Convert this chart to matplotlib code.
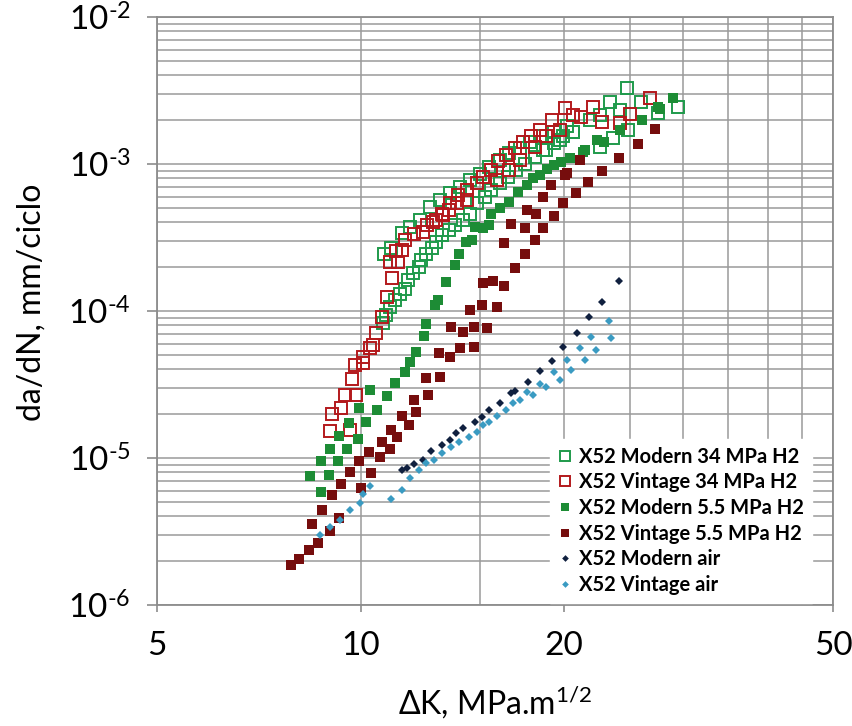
import math
import matplotlib
matplotlib.use("Agg")
import matplotlib.pyplot as plt
from matplotlib.ticker import FixedLocator, LogLocator, NullFormatter, FuncFormatter

plt.rcParams['font.family'] = ['Lato', 'DejaVu Sans']
plt.rcParams['mathtext.fontset'] = 'custom'
plt.rcParams['mathtext.rm'] = 'Lato'
plt.rcParams['mathtext.default'] = 'regular'

# ---------------- data ----------------
labels = ["X52 Modern 34 MPa H2", "X52 Vintage 34 MPa H2", "X52 Modern 5.5 MPa H2",
          "X52 Vintage 5.5 MPa H2", "X52 Modern air", "X52 Vintage air"]

mod34_x = [10.8, 10.9, 11.05, 11.25, 11.44, 11.64, 11.77, 11.97, 12.2, 12.3, 12.5, 12.75, 12.95, 13.2,
           13.5, 13.8, 14.2, 14.5, 14.85, 15.3, 15.6, 16.1, 16.5, 17.0, 17.5, 18.1, 18.6, 19.3, 19.9,
           20.6, 22.6, 23.6, 24.9, 27.5, 29.5,
           10.85, 11.1, 11.5, 11.84, 12.25, 12.65, 13.1, 13.56, 14.03, 14.5, 15.0, 15.5, 16.1, 16.6,
           17.2, 17.8, 18.4, 18.8, 19.3, 19.7, 20.2, 20.6, 21.85, 22.6, 23.4, 24.2, 24.8, 26.0]
mod34_y = [8.3e-5, 9.4e-5, 1.07e-4, 1.19e-4, 1.31e-4, 1.42e-4, 1.63e-4, 1.81e-4, 2.0e-4, 2.22e-4,
           2.46e-4, 2.67e-4, 2.96e-4, 3.3e-4, 3.56e-4, 3.85e-4, 4.16e-4, 4.6e-4, 5.4e-4, 6.0e-4,
           6.65e-4, 7.4e-4, 8.2e-4, 9.1e-4, 1.0e-3, 1.12e-3, 1.245e-3, 1.39e-3, 1.54e-3, 1.66e-3,
           1.30e-3, 1.50e-3, 1.70e-3, 2.23e-3, 2.46e-3,
           2.46e-4, 2.7e-4, 3.4e-4, 3.75e-4, 4.16e-4, 5.1e-4, 5.69e-4, 6.3e-4, 7.0e-4, 7.8e-4,
           8.6e-4, 9.6e-4, 1.065e-3, 1.18e-3, 1.28e-3, 1.42e-3, 1.54e-3, 1.245e-3, 1.66e-3,
           1.46e-3, 1.8e-3, 1.64e-3, 1.99e-3, 2.16e-3, 2.65e-3, 2.33e-3, 3.27e-3, 2.65e-3]

vin34_x = [9.0, 9.08, 9.36, 9.5, 9.65, 9.85, 9.7, 9.8, 10.1, 10.1, 10.33, 10.45, 10.55, 10.75, 10.95,
           11.15, 11.06, 11.35, 11.3, 11.5, 11.64, 12.0, 12.35, 12.55, 12.95, 13.25, 13.5, 13.9,
           14.35, 12.8, 13.2, 13.56, 13.95, 14.35, 14.85, 15.2, 15.6, 15.95, 16.4, 16.9, 17.4, 17.9,
           18.4, 19.2, 20.1, 20.6, 19.7, 18.8, 18.1, 17.2, 16.6, 15.9, 21.2, 22.1, 22.8, 24.2, 25.0,
           26.8]
vin34_y = [1.53e-5, 2.0e-5, 2.2e-5, 2.68e-5, 1.55e-5, 2.68e-5, 3.45e-5, 4.3e-5, 4.4e-5, 4.9e-5,
           5.6e-5, 5.9e-5, 7.1e-5, 9.1e-5, 1.25e-4, 1.67e-4, 2.17e-4, 2.17e-4, 2.55e-4, 2.6e-4,
           3.04e-4, 3.36e-4, 3.45e-4, 3.85e-4, 4.16e-4, 4.5e-4, 4.86e-4, 5.4e-4, 5.69e-4, 4.05e-4,
           4.6e-4, 5.4e-4, 6.15e-4, 6.65e-4, 7.4e-4, 8.2e-4, 9.1e-4, 1.04e-3, 1.15e-3, 1.28e-3,
           1.42e-3, 1.54e-3, 1.70e-3, 1.99e-3, 2.4e-3, 2.16e-3, 1.70e-3, 1.54e-3, 1.31e-3,
           1.065e-3, 9.1e-4, 7.8e-4, 2.1e-3, 2.46e-3, 1.94e-3, 1.89e-3, 2.2e-3, 2.8e-3]

mod55_x = [8.42, 8.75, 8.75, 8.98, 9.02, 9.25, 9.3, 9.56, 9.6, 9.93, 10.2, 9.96, 10.56, 10.33, 10.96,
           11.25, 11.64, 11.84, 12.1, 12.4, 12.5, 12.9, 13.0, 13.4, 13.8, 14.0, 14.3, 14.6, 14.75,
           15.2, 15.5, 15.6, 16.1, 16.6, 17.1, 17.6, 18.0, 18.4, 18.9, 19.3, 19.8, 20.4, 21.3, 21.5,
           22.4, 22.9, 24.2, 26.1, 27.5, 27.7, 29.0]
mod55_y = [7.5e-6, 5.9e-6, 9.5e-6, 7.6e-6, 1.16e-5, 9.5e-6, 1.41e-5, 1.16e-5, 1.74e-5, 1.35e-5,
           1.76e-5, 2.2e-5, 2.13e-5, 2.92e-5, 2.66e-5, 3.25e-5, 3.87e-5, 4.53e-5, 5.3e-5, 6.8e-5,
           8.2e-5, 1.09e-4, 1.19e-4, 1.58e-4, 2.05e-4, 2.46e-4, 2.94e-4, 3.04e-4, 3.75e-4, 3.67e-4,
           3.85e-4, 4.6e-4, 5.0e-4, 5.5e-4, 6.4e-4, 7.2e-4, 8.0e-4, 8.4e-4, 9.3e-4, 9.8e-4, 1.03e-3,
           1.09e-3, 1.21e-3, 1.245e-3, 1.46e-3, 1.42e-3, 1.70e-3, 1.99e-3, 2.46e-3, 2.35e-3, 2.80e-3]

vin55_x = [7.88, 8.12, 8.40, 8.66, 8.47, 9.0, 8.76, 9.3, 9.08, 9.35, 9.65, 10.0, 9.96, 10.36, 10.3,
           10.69, 10.75, 11.06, 11.1, 11.34, 11.5, 11.8, 12.0, 12.1, 12.5, 12.6, 13.1, 13.05, 13.56,
           14.03, 14.7, 13.6, 14.2, 14.7, 15.4, 14.5, 15.1, 15.9, 15.2, 15.7, 16.3, 16.9, 16.3, 17.5,
           18.1, 16.7, 17.5, 18.6, 17.6, 18.2, 19.3, 19.1, 19.9, 20.1, 20.8, 21.1, 21.7, 22.8, 24.1,
           25.7, 27.3, 20.2, 18.6]
vin55_y = [1.87e-6, 2.07e-6, 2.37e-6, 2.65e-6, 3.53e-6, 3.2e-6, 4.4e-6, 3.9e-6, 5.6e-6, 6.7e-6,
           8.0e-6, 6.2e-6, 9.5e-6, 7.9e-6, 1.09e-5, 1.02e-5, 1.28e-5, 1.15e-5, 1.54e-5, 1.39e-5,
           1.93e-5, 1.68e-5, 2.48e-5, 2.06e-5, 3.48e-5, 2.68e-5, 3.57e-5, 5.17e-5, 4.9e-5, 5.58e-5,
           5.7e-5, 7.8e-5, 7.2e-5, 7.8e-5, 7.7e-5, 1.02e-4, 1.10e-4, 1.07e-4, 1.55e-4, 1.59e-4,
           1.47e-4, 1.95e-4, 2.9e-4, 2.44e-4, 3.04e-4, 3.93e-4, 3.67e-4, 3.67e-4, 4.86e-4, 4.6e-4,
           4.4e-4, 7.2e-4, 5.4e-4, 8.4e-4, 6.3e-4, 1.065e-3, 7.5e-4, 9.0e-4, 1.09e-3, 1.36e-3,
           1.73e-3, 8.7e-4, 6.0e-4]

modair_x = [11.5, 11.7, 12.0, 12.35, 12.7, 13.2, 13.56, 13.85, 14.2, 14.75, 15.1, 15.5, 16.1, 16.7,
            16.9, 17.7, 18.4, 19.2, 19.95, 20.9, 21.8, 22.8, 24.1]
modair_y = [8.3e-6, 8.5e-6, 9.1e-6, 9.7e-6, 1.11e-5, 1.23e-5, 1.33e-5, 1.48e-5, 1.61e-5, 1.75e-5,
            1.90e-5, 2.12e-5, 2.38e-5, 2.75e-5, 2.87e-5, 3.3e-5, 3.9e-5, 4.6e-5, 5.7e-5, 7.1e-5,
            9.1e-5, 1.15e-4, 1.60e-4]

vinair_x = [8.71, 9.02, 9.33, 9.65, 9.98, 10.1, 10.33, 11.1, 11.5, 11.84, 12.2, 12.5, 12.85, 13.2,
            13.6, 14.0, 14.45, 14.85, 15.2, 15.5, 15.9, 16.4, 16.8, 17.2, 17.6, 18.0, 18.4, 18.8,
            19.3, 19.7, 20.2, 20.5, 21.1, 21.5, 21.9, 22.3, 23.3, 23.5]
vinair_y = [3.0e-6, 3.4e-6, 3.79e-6, 4.4e-6, 4.95e-6, 5.65e-6, 6.45e-6, 5.3e-6, 6.06e-6, 7.3e-6,
            8.3e-6, 9.2e-6, 9.7e-6, 1.08e-5, 1.18e-5, 1.29e-5, 1.39e-5, 1.51e-5, 1.68e-5, 1.75e-5,
            1.92e-5, 2.12e-5, 2.35e-5, 2.48e-5, 2.8e-5, 2.68e-5, 3.2e-5, 3.05e-5, 3.85e-5, 3.39e-5,
            4.64e-5, 3.97e-5, 5.6e-5, 4.64e-5, 6.7e-5, 5.43e-5, 8.5e-5, 6.5e-5]

x_major = [5, 10, 20, 50]
x_minor = [15, 25, 30, 35, 40, 45]

# ---------------- plot ----------------
fig = plt.figure(figsize=(8.53, 7.26), dpi=100)
ax = fig.add_axes([0.1841, 0.1667, 0.7925, 0.8099])
ax.set_xscale('log')
ax.set_yscale('log')
ax.set_xlim(5, 50)
ax.set_ylim(1e-6, 1e-2)

c_mod34 = '#1f9a4b'
c_vin34 = '#b3191c'
c_mod55 = '#1d8c35'
c_vin55 = '#760d0d'
c_modair = '#10203f'
c_vinair = '#3a9bc2'

ax.plot(mod34_x, mod34_y, ls='none', marker='s', ms=8, mfc='none', mec=c_mod34, mew=1.4,
        label=labels[0], zorder=3)
ax.plot(vin34_x, vin34_y, ls='none', marker='s', ms=8, mfc='none', mec=c_vin34, mew=1.4,
        label=labels[1], zorder=3)
ax.plot(mod55_x, mod55_y, ls='none', marker='s', ms=7.3, mfc=c_mod55, mec=c_mod55, mew=0,
        label=labels[2], zorder=3)
ax.plot(vin55_x, vin55_y, ls='none', marker='s', ms=7.3, mfc=c_vin55, mec=c_vin55, mew=0,
        label=labels[3], zorder=3)
ax.plot(modair_x, modair_y, ls='none', marker='D', ms=4, mfc=c_modair, mec=c_modair, mew=0,
        label=labels[4], zorder=3)
ax.plot(vinair_x, vinair_y, ls='none', marker='D', ms=4, mfc=c_vinair, mec=c_vinair, mew=0,
        label=labels[5], zorder=3)

# axes styling
ax.xaxis.set_major_locator(FixedLocator(x_major))
ax.xaxis.set_minor_locator(FixedLocator(x_minor))
ax.xaxis.set_major_formatter(FuncFormatter(lambda v, p: f"{v:g}"))
ax.xaxis.set_minor_formatter(NullFormatter())
ax.yaxis.set_major_locator(LogLocator(base=10, numticks=10))
ax.yaxis.set_minor_locator(LogLocator(base=10, subs=[2, 3, 4, 5, 6, 7, 8, 9], numticks=20))
ax.yaxis.set_minor_formatter(NullFormatter())
ax.yaxis.set_major_formatter(FuncFormatter(
    lambda v, p: r"$\mathregular{10^{\text{-}%d}}$" % abs(round(math.log10(v)))))

gcol = '#9a9a9a'
ax.grid(True, which='both', axis='both', color=gcol, lw=1.1)
ax.set_axisbelow(True)
for s in ax.spines.values():
    s.set_color('#8c8c8c')
    s.set_linewidth(1.3)

ax.tick_params(axis='both', which='major', labelsize=24, color='#8c8c8c', width=1.2)
ax.tick_params(axis='y', which='major', length=7, pad=12)
ax.tick_params(axis='x', which='major', length=5, pad=14)
ax.tick_params(which='minor', length=0)

ax.set_ylabel('da/dN, mm/ciclo', fontsize=23)
ax.yaxis.set_label_coords(-0.163, 0.515)
ax.set_xlabel(r'$\mathregular{\Delta}$K, MPa.m$^{\mathregular{1/2}}$', fontsize=23)
ax.xaxis.set_label_coords(0.5, -0.135)

leg = ax.legend(loc='upper left', bbox_to_anchor=(0.566, 0.30), frameon=True, fancybox=False,
                facecolor='white', edgecolor='white', framealpha=1,
                prop={'weight': 'bold', 'size': 14.5}, handlelength=0.7, handletextpad=0.35,
                labelspacing=0.28, borderpad=0.4, markerscale=0.85)
leg.set_zorder(5)

fig.savefig('out.png', dpi=100)
